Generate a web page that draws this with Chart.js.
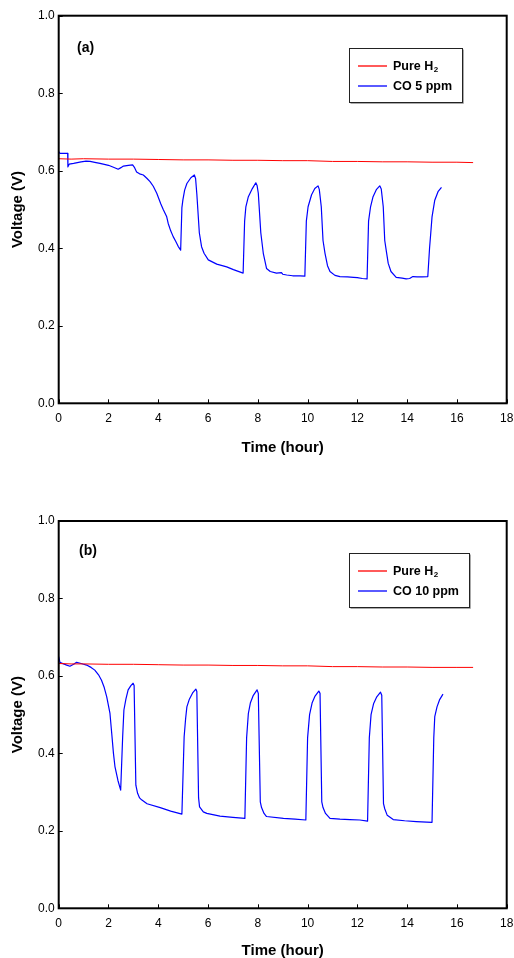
<!DOCTYPE html>
<html>
<head>
<meta charset="utf-8">
<script src="https://cdn.jsdelivr.net/npm/chart.js@4/dist/chart.umd.min.js"></script>
<style>
html,body{margin:0;padding:0;background:#fff;overflow:hidden;}
#page{position:relative;width:514px;height:958px;overflow:hidden;font-family:Arial,'Liberation Sans',sans-serif;color:#000;}
.box{position:absolute;left:0;width:514px;height:470px;}
.panel{position:absolute;font-weight:bold;font-size:14px;line-height:14px;}
</style>
</head>
<body>
<div id="page">
  <div class="box" style="top:0"><canvas id="ca" width="514" height="470"></canvas></div>
  <div class="box" style="top:505px"><canvas id="cb" width="514" height="470"></canvas></div>
  <div class="panel" style="left:77px;top:40px">(a)</div>
  <div class="panel" style="left:79px;top:543px">(b)</div>
</div>
<script>
// ---- tick labels / axis ----
const xTicksMin = 0, xTicksMax = 18, xTickStep = 2;
const yTicksMin = 0, yTicksMax = 1.0, yTickStep = 0.2;
const xTitle = 'Time (hour)';
const yTitle = 'Voltage (V)';

// ---- panel (a) ----  (subscript part of a label after '_')
const seriesNamesA = ['Pure H_2', 'CO 5 ppm'];
const timeH2A = [0, 0.5, 1, 2, 3, 4, 5, 6, 7, 8, 9, 10, 11, 12, 13, 14, 15, 16, 16.65];
const voltH2A = [0.631, 0.630, 0.631, 0.630, 0.630, 0.629, 0.628, 0.628, 0.627, 0.627, 0.626, 0.626, 0.624, 0.624, 0.623, 0.623, 0.622, 0.622, 0.621];
const timeCOA = [0, 0.05, 0.36, 0.37, 0.42, 0.6, 0.9, 1.1, 1.26, 1.5, 1.66, 2.0, 2.2, 2.39, 2.5, 2.6, 2.8, 2.97, 3.05, 3.13, 3.25, 3.4, 3.55, 3.67, 3.8, 3.94, 4.1, 4.2, 4.34, 4.4, 4.5, 4.6, 4.7, 4.8, 4.9,
  4.95, 4.99, 5.06, 5.15, 5.31, 5.45, 5.5, 5.55, 5.65, 5.74, 5.84, 6.01, 6.35, 6.75, 7.02, 7.41,
  7.47, 7.52, 7.62, 7.78, 7.92, 7.97, 8.02, 8.12, 8.22, 8.35, 8.5, 8.75, 8.95, 9.0, 9.16, 9.4, 9.7, 9.89,
  9.95, 10.02, 10.16, 10.29, 10.42, 10.47, 10.55, 10.62, 10.7, 10.8, 10.9, 11.1, 11.3, 11.6, 11.85, 12.0, 12.2, 12.39,
  12.45, 12.53, 12.63, 12.77, 12.9, 12.96, 13.04, 13.1, 13.17, 13.24, 13.35, 13.56, 13.8, 13.96, 14.1, 14.23, 14.4, 14.6, 14.83,
  14.9, 14.95, 15.0, 15.11, 15.24, 15.38];
const voltCOA = [0.649, 0.645, 0.645, 0.610, 0.617, 0.619, 0.623, 0.625, 0.624, 0.621, 0.619, 0.614, 0.609, 0.604, 0.608, 0.612, 0.614, 0.615, 0.608, 0.597, 0.592, 0.589, 0.580, 0.572, 0.560, 0.542, 0.515, 0.500, 0.481, 0.464, 0.445, 0.430, 0.418, 0.405, 0.395,
  0.505, 0.525, 0.550, 0.567, 0.582, 0.589, 0.580, 0.540, 0.440, 0.404, 0.387, 0.370, 0.359, 0.352, 0.345, 0.336,
  0.470, 0.507, 0.533, 0.554, 0.569, 0.562, 0.542, 0.440, 0.387, 0.348, 0.340, 0.336, 0.337, 0.333, 0.331, 0.329, 0.329, 0.328,
  0.470, 0.507, 0.538, 0.554, 0.561, 0.552, 0.507, 0.420, 0.387, 0.355, 0.340, 0.330, 0.327, 0.326, 0.325, 0.324, 0.322, 0.321,
  0.470, 0.507, 0.533, 0.552, 0.561, 0.553, 0.507, 0.420, 0.390, 0.361, 0.340, 0.325, 0.323, 0.321, 0.322, 0.327, 0.326, 0.326, 0.327,
  0.400, 0.440, 0.481, 0.524, 0.546, 0.557];

// ---- panel (b) ----
const seriesNamesB = ['Pure H_2', 'CO 10 ppm'];
const timeH2B = [0, 0.5, 1, 2, 3, 4, 5, 6, 7, 8, 9, 10, 11, 12, 13, 14, 15, 16, 16.65];
const voltH2B = [0.632, 0.631, 0.631, 0.630, 0.630, 0.629, 0.628, 0.628, 0.627, 0.627, 0.626, 0.626, 0.624, 0.624, 0.623, 0.623, 0.622, 0.622, 0.622];
const timeCOB = [0, 0.05, 0.12, 0.32, 0.45, 0.6, 0.72, 0.9, 1.12, 1.3, 1.45, 1.6, 1.72, 1.83, 1.93, 2.06, 2.13, 2.2, 2.26, 2.38, 2.49,
  2.57, 2.62, 2.7, 2.79, 2.9, 2.99, 3.03, 3.1, 3.17, 3.25, 3.33, 3.55, 4.08, 4.5, 4.95,
  5.04, 5.1, 5.15, 5.25, 5.38, 5.51, 5.55, 5.62, 5.66, 5.81, 5.95, 6.48, 7.0, 7.48,
  7.55, 7.62, 7.7, 7.82, 7.97, 8.02, 8.1, 8.15, 8.25, 8.35, 9.03, 9.5, 9.93,
  10.0, 10.08, 10.18, 10.3, 10.45, 10.5, 10.57, 10.62, 10.72, 10.9, 11.3, 11.7, 12.1, 12.41,
  12.48, 12.55, 12.65, 12.78, 12.93, 12.98, 13.05, 13.1, 13.2, 13.44, 13.9, 14.37, 15.0,
  15.07, 15.11, 15.2, 15.3, 15.44];
const voltCOB = [0.650, 0.635, 0.633, 0.628, 0.625, 0.630, 0.635, 0.632, 0.628, 0.622, 0.615, 0.603, 0.589, 0.570, 0.546, 0.503, 0.452, 0.400, 0.366, 0.330, 0.305,
  0.443, 0.512, 0.540, 0.564, 0.575, 0.581, 0.575, 0.318, 0.297, 0.285, 0.280, 0.270, 0.260, 0.251, 0.243,
  0.443, 0.490, 0.520, 0.540, 0.556, 0.566, 0.560, 0.285, 0.262, 0.249, 0.245, 0.238, 0.235, 0.232,
  0.440, 0.503, 0.530, 0.550, 0.564, 0.555, 0.275, 0.260, 0.245, 0.237, 0.232, 0.230, 0.228,
  0.440, 0.500, 0.530, 0.548, 0.561, 0.555, 0.275, 0.260, 0.245, 0.232, 0.230, 0.229, 0.228, 0.225,
  0.440, 0.500, 0.528, 0.546, 0.558, 0.550, 0.270, 0.257, 0.240, 0.229, 0.226, 0.224, 0.222,
  0.440, 0.495, 0.520, 0.538, 0.553];

const seriesColors = ['#ff0000', '#0000ff'];
const FONT = "Arial, 'Liberation Sans', sans-serif";

const frameTicks = {
  id: 'frameTicks',
  afterDatasetsDraw(chart) {
    const {ctx, chartArea: a, scales: {x, y}} = chart;
    ctx.save();
    ctx.strokeStyle = '#000';
    ctx.lineWidth = 1;
    ctx.beginPath();
    x.ticks.forEach(t => {
      const px = Math.round(x.getPixelForValue(t.value)) + 0.5;
      ctx.moveTo(px, a.bottom); ctx.lineTo(px, a.bottom - 4);
    });
    y.ticks.forEach(t => {
      const py = Math.round(y.getPixelForValue(t.value)) + 0.5;
      ctx.moveTo(a.left, py); ctx.lineTo(a.left + 4, py);
    });
    ctx.stroke();
    ctx.lineWidth = 2;
    ctx.strokeRect(a.left, a.top, a.right - a.left, a.bottom - a.top);
    ctx.restore();
  }
};

// legend box drawn inside the plot, from the chart's own datasets
const boxLegend = {
  id: 'boxLegend',
  afterDraw(chart) {
    const {ctx, chartArea: a} = chart;
    const left = Math.round(a.right - 157.4) + 0.5;
    const top = Math.round(a.top + 32.3) + 0.5;
    const mainFont = 'bold 12.5px ' + FONT;
    const subFont = 'bold 8px ' + FONT;
    ctx.save();
    const items = chart.data.datasets.map(d => {
      const [main, sub] = d.label.split('_');
      ctx.font = mainFont;
      let w = ctx.measureText(main).width;
      if (sub) { ctx.font = subFont; w += ctx.measureText(sub).width; }
      return {main, sub, color: d.borderColor, w};
    });
    const width = Math.round(43.7 + Math.max(...items.map(i => i.w)) + 10);
    const height = 54;
    ctx.fillStyle = '#fff';
    ctx.fillRect(left, top, width, height);
    ctx.strokeStyle = '#aaa';
    ctx.lineWidth = 1;
    ctx.beginPath();
    ctx.moveTo(left + width + 1, top + 1); ctx.lineTo(left + width + 1, top + height + 1); ctx.lineTo(left + 1, top + height + 1);
    ctx.stroke();
    ctx.strokeStyle = '#222';
    ctx.strokeRect(left, top, width, height);
    items.forEach((it, i) => {
      const cy = top + 17.5 + i * 20;
      ctx.strokeStyle = it.color;
      ctx.lineWidth = 1.3;
      ctx.beginPath();
      ctx.moveTo(left + 8.5, Math.round(cy)); ctx.lineTo(left + 37.5, Math.round(cy));
      ctx.stroke();
      ctx.fillStyle = '#000';
      ctx.textBaseline = 'middle';
      ctx.textAlign = 'left';
      ctx.font = mainFont;
      ctx.fillText(it.main, left + 43.5, cy + 0.5);
      if (it.sub) {
        const mw = ctx.measureText(it.main).width;
        ctx.font = subFont;
        ctx.fillText(it.sub, left + 43.5 + mw + 0.5, cy + 4);
      }
    });
    ctx.restore();
  }
};

function pts(xs, ys) { return xs.map((v, i) => ({x: v, y: ys[i]})); }

function makeChart(id, names, tH2, vH2, tCO, vCO, topPad, titleBottom) {
  return new Chart(document.getElementById(id), {
    type: 'scatter',
    data: {
      datasets: [
        {label: names[0], data: pts(tH2, vH2), showLine: true, borderColor: seriesColors[0], borderWidth: 1, pointRadius: 0, tension: 0, borderJoinStyle: 'round'},
        {label: names[1], data: pts(tCO, vCO), showLine: true, borderColor: seriesColors[1], borderWidth: 1.2, pointRadius: 0, tension: 0, borderJoinStyle: 'round'}
      ]
    },
    options: {
      responsive: false,
      animation: false,
      layout: {padding: {left: 0, right: 7.3, top: topPad, bottom: 0}},
      plugins: {legend: {display: false}, tooltip: {enabled: false}},
      scales: {
        x: {
          type: 'linear', min: xTicksMin, max: xTicksMax,
          ticks: {stepSize: xTickStep, color: '#000', font: {family: FONT, size: 12}, padding: 8, maxRotation: 0},
          grid: {display: false, drawTicks: false},
          border: {display: false},
          title: {display: true, text: xTitle, color: '#000', font: {family: FONT, size: 15, weight: 'bold'}, padding: {top: 0, bottom: titleBottom}},
          afterFit: s => { s.height = 66.7; s.paddingLeft = 0; s.paddingRight = 0; }
        },
        y: {
          type: 'linear', min: yTicksMin, max: yTicksMax,
          ticks: {stepSize: yTickStep, color: '#000', font: {family: FONT, size: 12}, padding: 4, callback: v => Number(v).toFixed(1)},
          grid: {display: false, drawTicks: false},
          border: {display: false},
          title: {display: true, text: yTitle, color: '#000', font: {family: FONT, size: 15, weight: 'bold'}, padding: {top: 9, bottom: 0}},
          afterFit: s => { s.width = 58.7; s.paddingTop = 0; s.paddingBottom = 0; }
        }
      }
    },
    plugins: [frameTicks, boxLegend]
  });
}

makeChart('ca', seriesNamesA, timeH2A, voltH2A, timeCOA, voltCOA, 15.7, 13);
makeChart('cb', seriesNamesB, timeH2B, voltH2B, timeCOB, voltCOB, 16, 15);
</script>
</body>
</html>
